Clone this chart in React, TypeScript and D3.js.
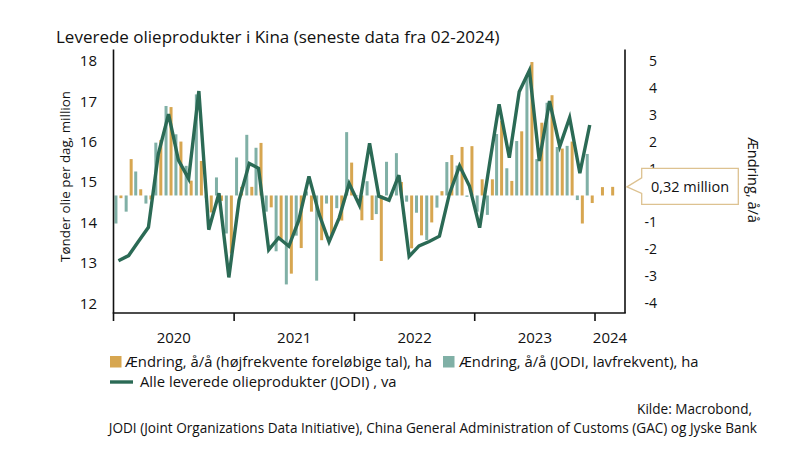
import React from "react";
import * as d3 from "d3";

// ---- Data (monthly, starting Jan 2020) ----
const startYear = 2020;
// Ændring, å/å (JODI, lavfrekvent), right axis, Jan 2020 - Dec 2023
const jodiChange: number[] = [
  -1.04, -0.6, 0.89, -0.3, 1.96, 3.32, 2.27, 1.1, 3.75, -0.1, 0.67, -1.41,
  1.41, 2.25, 1.77, -0.6, -2.07, -3.3, -1.49, 0.15, -3.16, -0.3, -0.47, 2.35,
  0.0, 0.53, -0.69, 1.25, 1.57, -0.23, -0.64, -1.65, -0.45, 1.24, 1.11, -0.05,
  -0.6, -0.72, 2.28, 1.01, 2.02, 4.46, 1.35, 3.44, 1.8, 1.84, -0.17, 1.54,
];
// Ændring, å/å (højfrekvente foreløbige tal), right axis, Jan 2020 - Feb 2024
const hfChange: number[] = [
  -0.1, 1.35, 0.23, -0.15, 2.06, 3.28, 2.0, 0.55, 1.28, -0.63, -0.2, -2.15,
  0.32, 0.32, 1.95, -0.44, -1.65, -2.9, -1.95, -0.6, -1.66, -1.46, -0.93, 1.22,
  -0.92, -0.91, -2.43, 0.0, 0.5, -1.96, -1.48, -1.0, 0.16, 1.5, 1.8, 1.83,
  0.6, 0.6, 2.77, 0.54, 2.38, 4.95, 2.7, 3.72, 1.74, 2.0, -1.04, -0.28,
  0.31, 0.32,
];
// Alle leverede olieprodukter (JODI), left axis, Jan 2020 - Dec 2023
const allProducts: number[] = [
  13.05, 13.18, 13.52, 13.88, 15.69, 16.68, 15.54, 15.08, 17.25, 13.82, 14.72, 12.64,
  14.55, 15.46, 15.34, 13.32, 13.62, 13.41, 14.05, 15.14, 14.2, 13.52, 14.12, 14.96,
  14.43, 15.96, 14.65, 14.55, 15.17, 13.16, 13.42, 13.53, 13.66, 14.7, 15.4, 14.9,
  13.87, 15.5, 16.92, 15.6, 17.23, 17.76, 15.52, 17.0, 15.88, 16.59, 15.22, 16.41,
];
const leftTicks: number[] = [12, 13, 14, 15, 16, 17, 18];
const rightTicks: number[] = [-4, -3, -2, -1, 1, 2, 3, 4, 5];
const yearTicks: number[] = [2020, 2021, 2022, 2023, 2024];

const title = "Leverede olieprodukter i Kina (seneste data fra 02-2024)";
const leftLabel = "Tønder olie per dag, million";
const rightLabel = "Ændring, å/å";
const legendHf = "Ændring, å/å (højfrekvente foreløbige tal), ha";
const legendJodi = "Ændring, å/å (JODI, lavfrekvent), ha";
const legendLine = "Alle leverede olieprodukter (JODI) , va";
const source1 = "Kilde: Macrobond,";
const source2 =
  "JODI (Joint Organizations Data Initiative), China General Administration of Customs (GAC) og Jyske Bank";

const COL_HF = "#d7a650";
const COL_JODI = "#80b0a6";
const COL_LINE = "#2b6a55";
const COL_CALLOUT = "#ddc291";
const FONT = "'Open Sans', Lato, sans-serif";

const monthDate = (i: number) => new Date(startYear, i, 16);

export default function App() {
  const W = 800;
  const H = 453;
  const plotL = 113.5;
  const plotR = 625;
  const plotT = 49.5;
  const plotB = 313;

  const x = d3
    .scaleTime()
    .domain([new Date(2020, 0, 1), new Date(2024, 3, 1)])
    .range([plotL, plotR]);
  const yL = d3.scaleLinear().domain([12, 18]).range([303.3, 60.7]);
  const yR = d3.scaleLinear().domain([-4, 5]).range([303.3, 60.7]);

  const barW = 3;
  const linePath = d3
    .line<number>()
    .x((_, i) => x(monthDate(i)))
    .y((d) => yL(d))(allProducts);

  const lastVal = hfChange[hfChange.length - 1];
  const tipX = plotR + 2;
  const tipY = yR(lastVal);
  const boxL = 641.7;
  const boxR = 738.3;
  const calloutPath = `M${tipX},${tipY} L${boxL},${tipY - 9} L${boxL},${tipY - 18.5} L${boxR},${tipY - 18.5} L${boxR},${tipY + 17.5} L${boxL},${tipY + 17.5} L${boxL},${tipY + 6.5} Z`;
  const calloutText = `${lastVal.toFixed(2).replace(".", ",")} million`;

  return (
    <div style={{ position: "absolute", left: 0, top: 0 }}>
      <svg width={W} height={H} style={{ display: "block", background: "#fff" }} fontFamily={FONT}>
        <rect x={0} y={0} width={W} height={H} fill="#fff" />
        <text x={56} y={42.5} fontSize={17} fill="#111">
          {title}
        </text>

        {/* bars */}
        {jodiChange.map((v, i) => {
          const cx = x(monthDate(i)) - 2.5;
          const y0 = yR(0);
          const y1 = yR(v);
          return (
            <rect
              key={"j" + i}
              x={cx - barW / 2}
              y={Math.min(y0, y1)}
              width={barW}
              height={Math.max(0.8, Math.abs(y1 - y0))}
              fill={COL_JODI}
            />
          );
        })}
        {hfChange.map((v, i) => {
          const cx = x(monthDate(i)) + 2.5;
          const y0 = yR(0);
          const y1 = yR(v);
          return (
            <rect
              key={"h" + i}
              x={cx - barW / 2}
              y={Math.min(y0, y1)}
              width={barW}
              height={Math.max(0.8, Math.abs(y1 - y0))}
              fill={COL_HF}
            />
          );
        })}

        {/* line */}
        <path d={linePath || ""} fill="none" stroke={COL_LINE} strokeWidth={3.4} strokeLinejoin="miter" />

        {/* axes */}
        <line x1={plotL} x2={plotL} y1={plotT} y2={plotB} stroke="#111" strokeWidth={1.6} />
        <line x1={plotR} x2={plotR} y1={plotT} y2={plotB} stroke="#111" strokeWidth={1.6} />
        <line x1={plotL - 0.8} x2={plotR + 0.8} y1={plotB} y2={plotB} stroke="#111" strokeWidth={1.6} />

        {leftTicks.map((t) => (
          <text key={"l" + t} x={97} y={yL(t)} dy="0.36em" textAnchor="end" fontSize={15} fill="#111">
            {t}
          </text>
        ))}
        {rightTicks.map((t) => (
          <text key={"r" + t} x={657} y={yR(t)} dy="0.36em" textAnchor="end" fontSize={14} fill="#111">
            {t}
          </text>
        ))}

        {yearTicks.map((yr) => {
          const xt = x(new Date(yr, 0, 1));
          const xe = Math.min(x(new Date(yr + 1, 0, 1)), plotR);
          return (
            <g key={"y" + yr}>
              <line x1={xt} x2={xt} y1={plotB} y2={plotB + 8} stroke="#111" strokeWidth={1.6} />
              <text x={(xt + xe) / 2} y={343} textAnchor="middle" fontSize={15} fill="#111">
                {yr}
              </text>
            </g>
          );
        })}

        {/* axis titles */}
        <text
          transform={`translate(70,${176.5}) rotate(-90)`}
          textAnchor="middle"
          fontSize={13.4}
          fill="#111"
        >
          {leftLabel}
        </text>
        <text
          transform={`translate(748,${180}) rotate(90)`}
          textAnchor="middle"
          fontSize={14.5}
          fill="#111"
        >
          {rightLabel}
        </text>

        {/* callout */}
        <path d={calloutPath} fill="#fff" stroke={COL_CALLOUT} strokeWidth={1.3} />
        <text x={(boxL + boxR) / 2} y={tipY} dy="0.36em" textAnchor="middle" fontSize={14.5} fill="#111">
          {calloutText}
        </text>

        {/* legend */}
        <rect x={110} y={356} width={11.5} height={11.5} fill={COL_HF} />
        <text x={125} y={366.5} fontSize={14.8} fill="#111">
          {legendHf}
        </text>
        <rect x={443} y={356} width={11.5} height={11.5} fill={COL_JODI} />
        <text x={459} y={366.5} fontSize={14.8} fill="#111">
          {legendJodi}
        </text>
        <line x1={110} x2={133} y1={382} y2={382} stroke={COL_LINE} strokeWidth={3.4} />
        <text x={140} y={387} fontSize={14.8} fill="#111">
          {legendLine}
        </text>

        {/* source */}
        <text x={752} y={413.5} textAnchor="end" fontSize={13.6} fill="#111">
          {source1}
        </text>
        <text x={757} y={432.5} textAnchor="end" fontSize={13.6} fill="#111">
          {source2}
        </text>
      </svg>
    </div>
  );
}
